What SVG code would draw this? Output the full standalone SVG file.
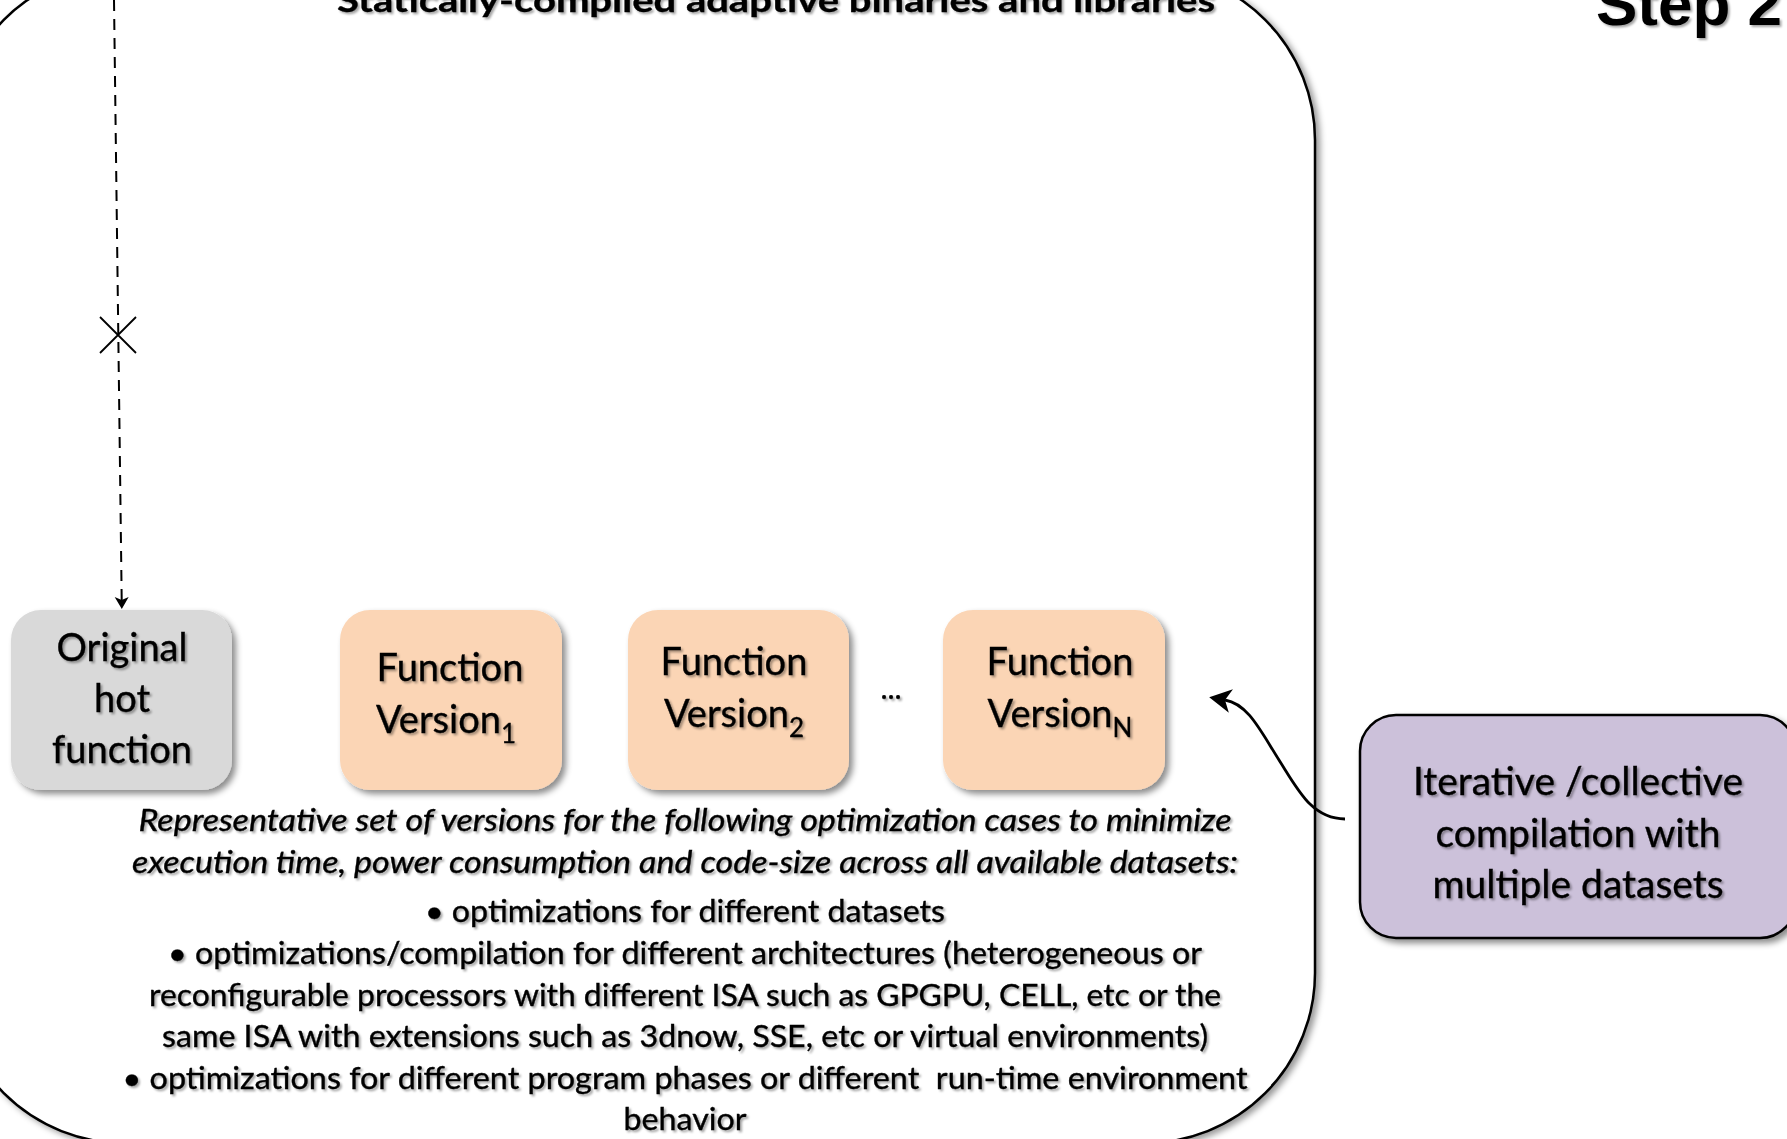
<svg xmlns="http://www.w3.org/2000/svg" width="1787" height="1139" viewBox="0 0 1787 1139">
<style>
  .t { font-family: Lato, "Open Sans", "Liberation Sans", sans-serif; fill: #000; stroke: #000; stroke-width: 0.35px; }
  .box { font-size: 38px; text-anchor: middle; }
  .body { font-size: 30px; text-anchor: middle; }
  .it { font-style: italic; }
  .sub { font-size: 26px; }
  .conn { fill: none; stroke: #000; }
</style>
<defs>
  <filter id="boxShadow" x="-10%" y="-10%" width="125%" height="130%">
    <feDropShadow dx="4" dy="4" stdDeviation="3" flood-color="#000" flood-opacity="0.45"/>
  </filter>
  <filter id="bigShadow" x="-5%" y="-5%" width="115%" height="115%">
    <feDropShadow dx="4" dy="3" stdDeviation="3" flood-color="#000" flood-opacity="0.4"/>
  </filter>
  <filter id="textShadow" x="-5%" y="-20%" width="115%" height="150%">
    <feDropShadow dx="2" dy="2" stdDeviation="1.2" flood-color="#000" flood-opacity="0.35"/>
  </filter>
  <marker id="dashHead" viewBox="-1 -8 15 16" markerWidth="15" markerHeight="16" refX="3" refY="0" orient="auto" markerUnits="userSpaceOnUse">
    <path d="M12,0 L0,-7 L3,0 L0,7 Z" fill="#000"/>
  </marker>
  <marker id="stealth" viewBox="-1 -14 25 28" markerWidth="25" markerHeight="28" refX="6" refY="0" orient="auto" markerUnits="userSpaceOnUse">
    <path d="M22,0 L0,-12 L6,0 L0,12 Z" fill="#000"/>
  </marker>
</defs>

<rect width="1787" height="1139" fill="#fff"/>

<g id="container">
  <rect x="-46" y="-30" width="1361" height="1173" rx="170" ry="170" fill="#fff" stroke="#000" stroke-width="2.5" filter="url(#bigShadow)"/>
  <text class="t" x="776" y="12" font-size="33" font-weight="bold" text-anchor="middle" textLength="878" lengthAdjust="spacingAndGlyphs" filter="url(#textShadow)">Statically-compiled adaptive binaries and libraries</text>
</g>

<g id="step-label">
  <text x="1596" y="25" font-family="'Liberation Sans', Arial, sans-serif" font-size="62" font-weight="bold" filter="url(#textShadow)">Step 2</text>
</g>

<g id="connectors">
  <path class="conn" d="M114,0 L121.7,600" stroke-width="2" stroke-dasharray="11 8" marker-end="url(#dashHead)"/>
  <path class="conn" d="M100,317 L136,353 M136,317 L100,353" stroke-width="1.8"/>
  <path class="conn" d="M1345,819 C1312,819 1298,790 1279,760 C1260,730 1248,704 1225,700" stroke-width="2.8" marker-end="url(#stealth)"/>
</g>

<g id="original-hot-function">
  <rect x="11" y="610" width="221" height="180" rx="30" fill="#d9d9d9" filter="url(#boxShadow)"/>
  <g class="t box" filter="url(#textShadow)">
    <text x="122" y="661">Original</text>
    <text x="122" y="712">hot</text>
    <text x="122" y="763">function</text>
  </g>
</g>

<g id="function-version-1">
  <rect x="340" y="610" width="222" height="180" rx="30" fill="#fbd5b5" filter="url(#boxShadow)"/>
  <g class="t box" filter="url(#textShadow)">
    <text x="450" y="681">Function</text>
    <text x="446" y="733">Version<tspan class="sub" dy="10">1</tspan></text>
  </g>
</g>

<g id="function-version-2">
  <rect x="628" y="610" width="221" height="180" rx="30" fill="#fbd5b5" filter="url(#boxShadow)"/>
  <g class="t box" filter="url(#textShadow)">
    <text x="734" y="675">Function</text>
    <text x="734" y="727">Version<tspan class="sub" dy="10">2</tspan></text>
  </g>
</g>

<g id="ellipsis">
  <text class="t" x="891" y="699" font-size="30" text-anchor="middle" filter="url(#textShadow)">...</text>
</g>

<g id="function-version-n">
  <rect x="943" y="610" width="222" height="180" rx="30" fill="#fbd5b5" filter="url(#boxShadow)"/>
  <g class="t box" filter="url(#textShadow)">
    <text x="1060" y="675">Function</text>
    <text x="1060" y="727">Version<tspan class="sub" dy="10">N</tspan></text>
  </g>
</g>

<g id="iterative-compilation">
  <rect x="1360" y="715" width="436" height="223" rx="36" fill="#ccc1da" stroke="#000" stroke-width="2.5" filter="url(#boxShadow)"/>
  <g class="t box" filter="url(#textShadow)" font-size="39">
    <text x="1578" y="795" font-size="39">Iterative /collective</text>
    <text x="1578" y="847" font-size="39">compilation with</text>
    <text x="1578" y="898" font-size="39">multiple datasets</text>
  </g>
</g>

<g id="description" class="t body" filter="url(#textShadow)">
  <text class="it" x="685" y="831" textLength="1093" lengthAdjust="spacingAndGlyphs">Representative set of versions for the following optimization cases to minimize</text>
  <text class="it" x="685" y="873" textLength="1106" lengthAdjust="spacingAndGlyphs">execution time, power consumption and code-size across all available datasets:</text>
  <text x="685" y="922" textLength="520" lengthAdjust="spacingAndGlyphs">• optimizations for different datasets</text>
  <text x="685" y="964" textLength="1034" lengthAdjust="spacingAndGlyphs">• optimizations/compilation for different architectures (heterogeneous or</text>
  <text x="685" y="1006" textLength="1072" lengthAdjust="spacingAndGlyphs">reconfigurable processors with different ISA such as GPGPU, CELL, etc or the</text>
  <text x="685" y="1047" textLength="1046" lengthAdjust="spacingAndGlyphs">same ISA with extensions such as 3dnow, SSE, etc or virtual environments)</text>
  <text x="685" y="1089" textLength="1125" lengthAdjust="spacingAndGlyphs" xml:space="preserve">• optimizations for different program phases or different  run-time environment</text>
  <text x="685" y="1130" textLength="123" lengthAdjust="spacingAndGlyphs">behavior</text>
</g>
</svg>
